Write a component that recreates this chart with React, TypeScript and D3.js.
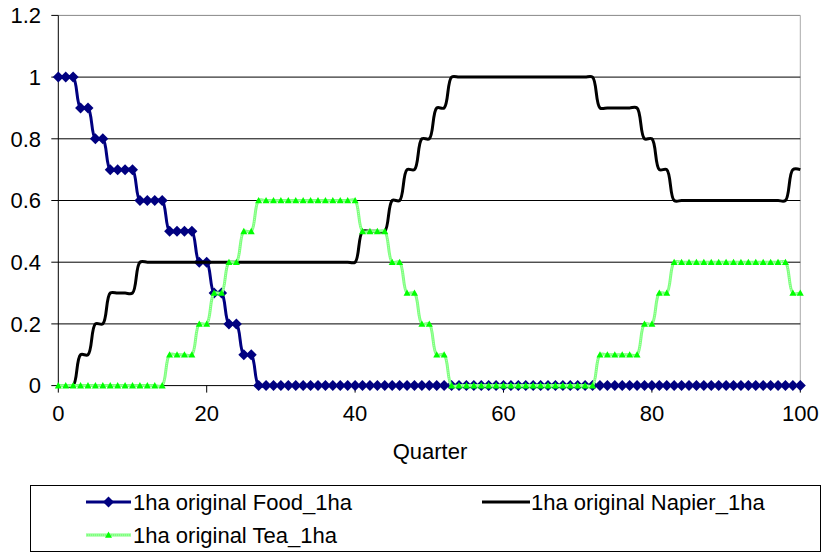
import React from "react";
import * as d3 from "d3";

const quarters: number[] = d3.range(0, 101);

const foodValues: number[] = [
  1, 1, 1, 0.9, 0.9, 0.8, 0.8, 0.7, 0.7, 0.7, 0.7, 0.6, 0.6, 0.6, 0.6, 0.5, 0.5, 0.5, 0.5, 0.4,
  0.4, 0.3, 0.3, 0.2, 0.2, 0.1, 0.1, 0, 0, 0, 0, 0, 0, 0, 0, 0, 0, 0, 0, 0,
  0, 0, 0, 0, 0, 0, 0, 0, 0, 0, 0, 0, 0, 0, 0, 0, 0, 0, 0, 0,
  0, 0, 0, 0, 0, 0, 0, 0, 0, 0, 0, 0, 0, 0, 0, 0, 0, 0, 0, 0,
  0, 0, 0, 0, 0, 0, 0, 0, 0, 0, 0, 0, 0, 0, 0, 0, 0, 0, 0, 0,
  0,
];

const napierValues: number[] = [
  0, 0, 0, 0.1, 0.1, 0.2, 0.2, 0.3, 0.3, 0.3, 0.3, 0.4, 0.4, 0.4, 0.4, 0.4, 0.4, 0.4, 0.4, 0.4,
  0.4, 0.4, 0.4, 0.4, 0.4, 0.4, 0.4, 0.4, 0.4, 0.4, 0.4, 0.4, 0.4, 0.4, 0.4, 0.4, 0.4, 0.4, 0.4, 0.4,
  0.4, 0.5, 0.5, 0.5, 0.5, 0.6, 0.6, 0.7, 0.7, 0.8, 0.8, 0.9, 0.9, 1, 1, 1, 1, 1, 1, 1,
  1, 1, 1, 1, 1, 1, 1, 1, 1, 1, 1, 1, 1, 0.9, 0.9, 0.9, 0.9, 0.9, 0.9, 0.8,
  0.8, 0.7, 0.7, 0.6, 0.6, 0.6, 0.6, 0.6, 0.6, 0.6, 0.6, 0.6, 0.6, 0.6, 0.6, 0.6, 0.6, 0.6, 0.6, 0.7,
  0.7,
];

const teaValues: number[] = [
  0, 0, 0, 0, 0, 0, 0, 0, 0, 0, 0, 0, 0, 0, 0, 0.1, 0.1, 0.1, 0.1, 0.2,
  0.2, 0.3, 0.3, 0.4, 0.4, 0.5, 0.5, 0.6, 0.6, 0.6, 0.6, 0.6, 0.6, 0.6, 0.6, 0.6, 0.6, 0.6, 0.6, 0.6,
  0.6, 0.5, 0.5, 0.5, 0.5, 0.4, 0.4, 0.3, 0.3, 0.2, 0.2, 0.1, 0.1, 0, 0, 0, 0, 0, 0, 0,
  0, 0, 0, 0, 0, 0, 0, 0, 0, 0, 0, 0, 0, 0.1, 0.1, 0.1, 0.1, 0.1, 0.1, 0.2,
  0.2, 0.3, 0.3, 0.4, 0.4, 0.4, 0.4, 0.4, 0.4, 0.4, 0.4, 0.4, 0.4, 0.4, 0.4, 0.4, 0.4, 0.4, 0.4, 0.3,
  0.3,
];

const xTicks: number[] = [0, 20, 40, 60, 80, 100];
const yTicks: number[] = [0, 0.2, 0.4, 0.6, 0.8, 1, 1.2];
const xTitle = "Quarter";
const seriesNames: string[] = [
  "1ha original Food_1ha",
  "1ha original Napier_1ha",
  "1ha original Tea_1ha",
];

const FONT = "'Liberation Sans', Arial, sans-serif";
const FS = 22;

export default function App() {
  const W = 821;
  const H = 553;
  const x = d3.scaleLinear().domain([0, 100]).range([58.3, 800.3]);
  const y = d3.scaleLinear().domain([0, 1.2]).range([385.6, 15.4]);

  const mk = (vals: number[]) =>
    d3
      .line<number>()
      .x((_, i) => x(quarters[i]))
      .y((d) => y(d))
      .curve(d3.curveCatmullRom.alpha(0.5))(vals) || "";

  const diamond = (cx: number, cy: number, r = 5.5) =>
    `M${cx},${cy - r}L${cx + r},${cy}L${cx},${cy + r}L${cx - r},${cy}Z`;
  const triangle = (cx: number, cy: number, r = 3.5) =>
    `M${cx},${cy - r}L${cx + r},${cy + r * 0.8}L${cx - r},${cy + r * 0.8}Z`;

  const navy = "#000080";
  const teaLine = "#7dff7d";
  const teaMark = "#00ff00";

  const plotL = x(0);
  const plotR = x(100);
  const plotT = y(1.2);
  const plotB = y(0);

  return (
    <svg width={W} height={H} style={{ position: "absolute", left: 0, top: 0, background: "#fff" }}>
      <rect x={0} y={0} width={W} height={H} fill="#fff" />
      <line x1={plotL} x2={plotR} y1={plotT} y2={plotT} stroke="#888" strokeWidth={1} />
      <line x1={plotR} x2={plotR} y1={plotT} y2={plotB} stroke="#aaa" strokeWidth={1} />
      {yTicks.filter((t) => t > 0 && t < 1.2).map((t) => (
        <line key={"g" + t} x1={plotL} x2={plotR} y1={y(t)} y2={y(t)} stroke="#000" strokeWidth={1} />
      ))}
      <line x1={plotL} x2={plotL} y1={plotT} y2={plotB} stroke="#000" strokeWidth={1} />
      <line x1={plotL} x2={plotR} y1={plotB} y2={plotB} stroke="#000" strokeWidth={1} />
      {yTicks.map((t) => (
        <g key={"yt" + t}>
          <line x1={plotL - 7} x2={plotL} y1={y(t)} y2={y(t)} stroke="#000" />
          <text x={41} y={y(t)} dy="0.35em" textAnchor="end" fontFamily={FONT} fontSize={FS}>
            {String(t)}
          </text>
        </g>
      ))}
      {xTicks.map((t) => (
        <g key={"xt" + t}>
          <line x1={x(t)} x2={x(t)} y1={plotB} y2={plotB + 7} stroke="#000" />
          <text x={x(t)} y={413} dy="0.35em" textAnchor="middle" fontFamily={FONT} fontSize={FS}>
            {String(t)}
          </text>
        </g>
      ))}
      <text x={430} y={451} dy="0.35em" textAnchor="middle" fontFamily={FONT} fontSize={FS}>
        {xTitle}
      </text>

      <path d={mk(foodValues)} fill="none" stroke={navy} strokeWidth={3} />
      {foodValues.map((v, i) => (
        <path key={"f" + i} d={diamond(x(quarters[i]), y(v))} fill={navy} />
      ))}
      <path d={mk(napierValues)} fill="none" stroke="#000" strokeWidth={3} />
      <path d={mk(teaValues)} fill="none" stroke={teaLine} strokeWidth={3} />
      <path d={mk(teaValues)} fill="none" stroke="#b8ffb8" strokeWidth={1} strokeDasharray="1,1" />
      {teaValues.map((v, i) => (
        <path key={"t" + i} d={triangle(x(quarters[i]), y(v))} fill={teaMark} />
      ))}

      <rect x={30.5} y={485.5} width={790} height={66} fill="none" stroke="#000" strokeWidth={1} />
      <line x1={86} x2={131} y1={502} y2={502} stroke={navy} strokeWidth={3} />
      <path d={diamond(108.5, 502)} fill={navy} />
      <text x={133} y={510} fontFamily={FONT} fontSize={FS}>{seriesNames[0]}</text>
      <line x1={482} x2={530} y1={502} y2={502} stroke="#000" strokeWidth={3} />
      <text x={531} y={510} fontFamily={FONT} fontSize={FS}>{seriesNames[1]}</text>
      <line x1={86} x2={131} y1={535} y2={535} stroke={teaLine} strokeWidth={3} />
      <line x1={86} x2={131} y1={535} y2={535} stroke="#b8ffb8" strokeWidth={1} strokeDasharray="1,1" />
      <path d={triangle(108.5, 535)} fill={teaMark} />
      <text x={133} y={543} fontFamily={FONT} fontSize={FS}>{seriesNames[2]}</text>
    </svg>
  );
}
